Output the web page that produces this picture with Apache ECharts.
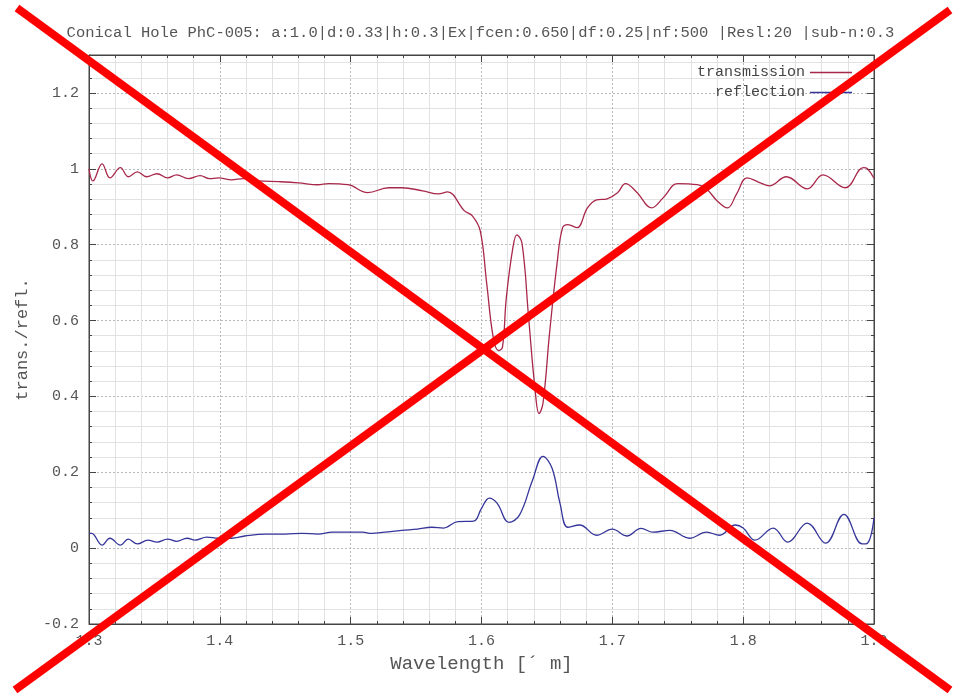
<!DOCTYPE html>
<html>
<head>
<meta charset="utf-8">
<script src="https://cdn.jsdelivr.net/npm/echarts@6/dist/echarts.min.js"></script>
<style>
  html, body { margin: 0; padding: 0; background: #fff; }
  #chart { width: 961px; height: 695px; }
</style>
</head>
<body>
<div id="chart"></div>
<script>
// transmission spectrum (wavelength in um)
const transWl = [1.300, 1.303, 1.310, 1.316, 1.324, 1.330, 1.337, 1.344, 1.352, 1.360, 1.367, 1.376,
  1.385, 1.392, 1.399, 1.409, 1.418, 1.429, 1.445, 1.460, 1.475, 1.483, 1.498, 1.513, 1.529, 1.539,
  1.555, 1.567, 1.574, 1.587, 1.593, 1.599, 1.604, 1.609, 1.613, 1.616, 1.619, 1.624, 1.627, 1.631,
  1.636, 1.641, 1.644, 1.647, 1.652, 1.658, 1.662, 1.666, 1.673, 1.681, 1.688, 1.696, 1.704, 1.710,
  1.719, 1.730, 1.739, 1.750, 1.765, 1.772, 1.780, 1.788, 1.795, 1.803, 1.813, 1.820, 1.833, 1.849,
  1.861, 1.878, 1.892, 1.895, 1.900]
const transVal = [1.000, 0.968, 1.013, 0.976, 1.003, 0.979, 0.992, 0.979, 0.987, 0.976, 0.984, 0.974,
  0.982, 0.974, 0.976, 0.971, 0.974, 0.968, 0.966, 0.963, 0.958, 0.961, 0.958, 0.937, 0.950, 0.950,
  0.942, 0.934, 0.939, 0.889, 0.876, 0.837, 0.697, 0.555, 0.521, 0.529, 0.661, 0.792, 0.826, 0.803,
  0.608, 0.416, 0.355, 0.382, 0.566, 0.758, 0.845, 0.853, 0.845, 0.897, 0.918, 0.921, 0.937, 0.961,
  0.937, 0.897, 0.924, 0.961, 0.958, 0.947, 0.916, 0.897, 0.934, 0.976, 0.963, 0.955, 0.979, 0.947,
  0.984, 0.950, 1.003, 1.000, 0.975]

// reflection spectrum
const reflWl = [1.300, 1.302, 1.310, 1.316, 1.324, 1.330, 1.337, 1.345, 1.352, 1.360, 1.367, 1.375,
  1.381, 1.390, 1.399, 1.409, 1.419, 1.435, 1.450, 1.463, 1.475, 1.486, 1.501, 1.509, 1.516, 1.526,
  1.539, 1.551, 1.562, 1.571, 1.582, 1.594, 1.600, 1.606, 1.612, 1.621, 1.629, 1.639, 1.647, 1.654,
  1.660, 1.666, 1.675, 1.688, 1.700, 1.711, 1.722, 1.731, 1.744, 1.759, 1.772, 1.782, 1.794, 1.800,
  1.809, 1.823, 1.834, 1.849, 1.863, 1.877, 1.891, 1.895, 1.900]
const reflVal = [0.039, 0.039, 0.008, 0.026, 0.008, 0.024, 0.011, 0.021, 0.016, 0.024, 0.018, 0.026,
  0.021, 0.029, 0.026, 0.026, 0.032, 0.037, 0.037, 0.039, 0.037, 0.042, 0.042, 0.042, 0.039, 0.042,
  0.047, 0.050, 0.055, 0.053, 0.070, 0.071, 0.105, 0.132, 0.118, 0.068, 0.087, 0.179, 0.242, 0.210,
  0.118, 0.055, 0.061, 0.034, 0.050, 0.032, 0.052, 0.042, 0.047, 0.026, 0.042, 0.034, 0.061, 0.053,
  0.021, 0.053, 0.016, 0.066, 0.013, 0.089, 0.011, 0.013, 0.079]

const titleText = 'Conical Hole PhC-005: a:1.0|d:0.33|h:0.3|Ex|fcen:0.650|df:0.25|nf:500 |Resl:20 |sub-n:0.3'
const seriesNames = ['transmission', 'reflection']

const mono = 'Liberation Mono'
const chart = echarts.init(document.getElementById('chart'))

const pairs = (xs, ys) => xs.map((x, i) => [x, ys[i]])

const gridLines = {
  splitLine: { show: true, lineStyle: { color: '#b8b8b8', type: [2, 2], width: 1 } },
  minorSplitLine: { show: true, lineStyle: { color: '#e2e2e2', width: 1 } },
  minorTick: { show: true, splitNumber: 5, length: 3, lineStyle: { color: '#444' } },
  axisTick: { inside: true, length: 7, lineStyle: { color: '#444' } },
  axisLine: { onZero: false, lineStyle: { color: '#444' } }
}

const option = {
  animation: false,
  backgroundColor: '#fff',
  title: {
    text: titleText,
    left: 'center',
    top: 20,
    textStyle: { fontFamily: mono, fontSize: 15.5, fontWeight: 'normal', color: '#555' }
  },
  legend: {
    data: seriesNames,
    orient: 'vertical',
    right: 104,
    top: 60,
    align: 'right',
    icon: 'rect',
    itemWidth: 42,
    itemHeight: 1.5,
    itemGap: 5,
    textStyle: { fontFamily: mono, fontSize: 15, color: '#444' }
  },
  grid: {
    left: 89, right: 87, top: 55, bottom: 71,
    show: true, borderColor: '#444', borderWidth: 1
  },
  xAxis: [{
    type: 'value',
    min: 1.3, max: 1.9, interval: 0.1,
    name: 'Wavelength [\u00b4 m]',
    nameLocation: 'middle',
    nameGap: 30,
    nameTextStyle: { fontFamily: mono, fontSize: 19, color: '#555' },
    axisLabel: {
      fontFamily: mono, fontSize: 15, color: '#555', margin: 10,
      formatter: v => v.toFixed(1)
    },
    ...gridLines
  }, {
    type: 'value', position: 'top',
    min: 1.3, max: 1.9, interval: 0.1,
    axisLabel: { show: false },
    splitLine: { show: false },
    minorTick: { show: true, splitNumber: 5, length: 3, lineStyle: { color: '#444' } },
    axisTick: { inside: true, length: 7, lineStyle: { color: '#444' } },
    axisLine: { onZero: false, lineStyle: { color: '#444' } }
  }],
  yAxis: [{
    type: 'value',
    min: -0.2, max: 1.3, interval: 0.2,
    name: 'trans./refl.',
    nameLocation: 'middle',
    nameGap: 58,
    nameTextStyle: { fontFamily: mono, fontSize: 17, color: '#555' },
    axisLabel: {
      fontFamily: mono, fontSize: 15, color: '#555', margin: 10,
      showMaxLabel: false,
      formatter: v => (Math.abs(v) < 1e-9 ? '0' : String(+v.toFixed(1)))
    },
    ...gridLines
  }, {
    type: 'value', position: 'right',
    min: -0.2, max: 1.3, interval: 0.2,
    axisLabel: { show: false },
    splitLine: { show: false },
    minorTick: { show: true, splitNumber: 5, length: 3, lineStyle: { color: '#444' } },
    axisTick: { inside: true, length: 7, lineStyle: { color: '#444' } },
    axisLine: { show: true, onZero: false, lineStyle: { color: '#444' } }
  }],
  series: [
    {
      name: seriesNames[0],
      type: 'line',
      data: pairs(transWl, transVal),
      smooth: 0.4,
      symbol: 'none',
      lineStyle: { color: '#a8284a', width: 1.3 },
      itemStyle: { color: '#a8284a' }
    },
    {
      name: seriesNames[1],
      type: 'line',
      data: pairs(reflWl, reflVal),
      smooth: 0.4,
      symbol: 'none',
      lineStyle: { color: '#35359a', width: 1.3 },
      itemStyle: { color: '#35359a' }
    }
  ],
  // red cross drawn over the whole picture
  graphic: [
    { type: 'line', z: 100, shape: { x1: 17, y1: 8, x2: 950, y2: 690 }, style: { stroke: '#ff0000', lineWidth: 8 } },
    { type: 'line', z: 100, shape: { x1: 15, y1: 690, x2: 950, y2: 10 }, style: { stroke: '#ff0000', lineWidth: 8 } }
  ]
}

chart.setOption(option)
</script>
</body>
</html>
